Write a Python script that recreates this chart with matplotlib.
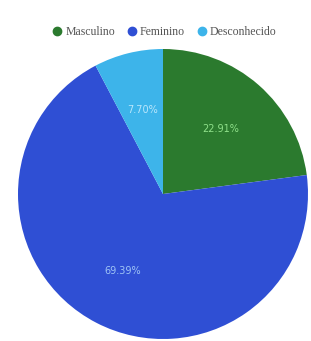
import matplotlib
matplotlib.use("Agg")
import matplotlib.pyplot as plt
from matplotlib.lines import Line2D

categories = ["Masculino", "Feminino", "Desconhecido"]
values = [22.91, 69.39, 7.70]
colors = ["#2b7a2e", "#2f4fd4", "#3db4ea"]
label_colors = ["#8fe08a", "#9fc4f5", "#b9e6fb"]

fig = plt.figure(figsize=(3.11, 3.41), dpi=100)
W, H = 311, 341
cx, cy, r = 163, 194, 145
ax = fig.add_axes([(cx - r) / W, (H - cy - r) / H, 2 * r / W, 2 * r / H])
wedges, texts, autotexts = ax.pie(
    values, colors=colors, startangle=90, counterclock=False,
    autopct="%.2f%%", pctdistance=0.6, radius=1.0,
    wedgeprops=dict(linewidth=0),
    textprops=dict(fontsize=7, family="DejaVu Sans"))
for t, c in zip(autotexts, label_colors):
    t.set_color(c)
ax.set_xlim(-1, 1)
ax.set_ylim(-1, 1)
ax.set_aspect("auto")
ax.axis("off")

handles = [Line2D([], [], marker="o", linestyle="", markersize=6,
                  markerfacecolor=c, markeredgecolor=c) for c in colors]
fig.legend(handles, categories, loc="center", bbox_to_anchor=(164 / W, 1 - 32 / H),
           ncol=3, frameon=False, handletextpad=0.2, columnspacing=0.9,
           handlelength=1.0,
           prop=dict(family="Liberation Serif", size=8.5), labelcolor="#555555")

fig.savefig("out.png", dpi=100)
